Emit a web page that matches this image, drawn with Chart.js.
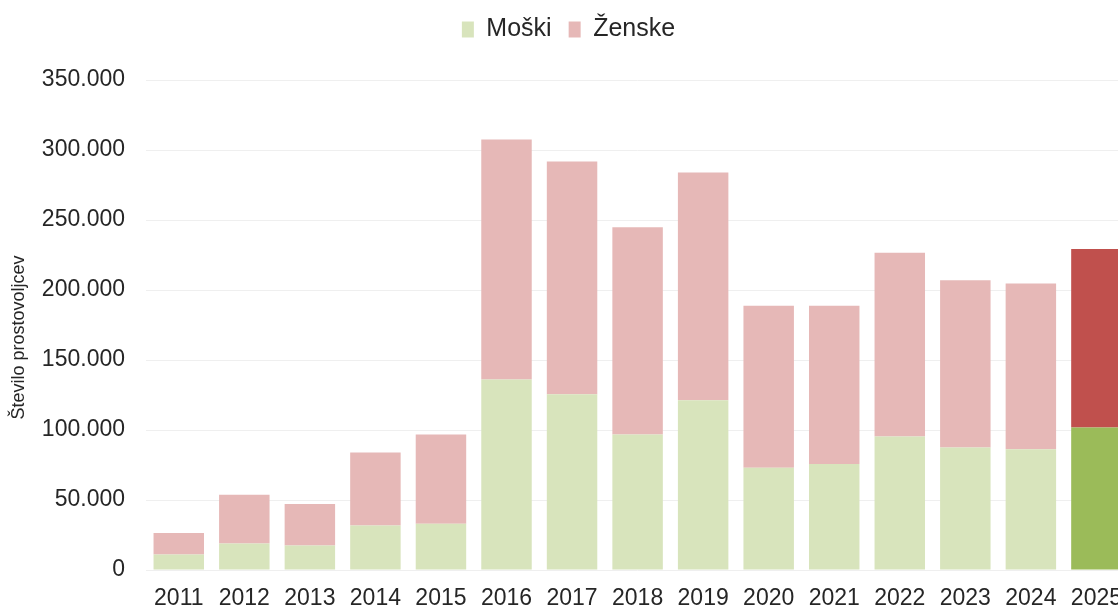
<!DOCTYPE html>
<html>
<head>
<meta charset="utf-8">
<script src="https://cdn.jsdelivr.net/npm/chart.js@4/dist/chart.umd.min.js"></script>
<style>
    html, body { margin: 0; padding: 0; background: #fff; overflow: hidden; }
    #wrap { width: 1137px; height: 610px; position: relative; }
</style>
</head>
<body>
<div id="wrap"><canvas id="chart"></canvas></div>
<script>
// Podatki
const leta = ['2011', '2012', '2013', '2014', '2015', '2016', '2017', '2018', '2019', '2020', '2021', '2022', '2023', '2024', '2025'];
const moski = [11000, 19000, 17500, 31800, 33000, 136000, 125500, 96800, 121300, 73000, 75800, 95300, 87500, 86200, 101800];
const skupaj = [26500, 53800, 47200, 83900, 96800, 307500, 291800, 244800, 284000, 188800, 188700, 226600, 206900, 204600, 229200];
const zenske = skupaj.map((s, i) => s - moski[i]);

const zadnji = leta.length - 1;

// Barve
const moskiSvetla = '#d8e4bc';
const moskiTemna = '#9bbb59';
const zenskeSvetla = '#e6b8b7';
const zenskeTemna = '#c0504d';

Chart.defaults.font.family = '"Liberation Sans", Arial, sans-serif';
Chart.defaults.color = '#262626';

// Fiksna visina legende
const legendaVisina = {
    id: 'legendaVisina',
    beforeInit(chart) {
        const fit = chart.legend.fit;
        chart.legend.fit = function() {
            fit.bind(chart.legend)();
            this.height = 80;
        };
    }
};

new Chart(document.getElementById('chart').getContext('2d'), {
    type: 'bar',
    data: {
        labels: leta,
        datasets: [{
            label: 'Moški',
            data: moski,
            backgroundColor: ctx => ctx.dataIndex === zadnji ? moskiTemna : moskiSvetla,
            barPercentage: 0.77,
            categoryPercentage: 1
        }, {
            label: 'Ženske',
            data: zenske,
            backgroundColor: ctx => ctx.dataIndex === zadnji ? zenskeTemna : zenskeSvetla,
            barPercentage: 0.77,
            categoryPercentage: 1
        }]
    },
    options: {
        responsive: true,
        maintainAspectRatio: false,
        animation: false,
        layout: {
            padding: { top: 0, right: 0, left: 0, bottom: 0 }
        },
        plugins: {
            legend: {
                position: 'top',
                labels: {
                    boxWidth: 12,
                    boxHeight: 16,
                    padding: 17,
                    font: { size: 25 },
                    color: '#262626'
                }
            },
            tooltip: { enabled: false }
        },
        scales: {
            x: {
                stacked: true,
                grid: { display: false, drawTicks: false },
                border: { display: false },
                ticks: {
                    font: { size: 23 },
                    padding: 15,
                    maxRotation: 0,
                    autoSkip: false
                },
                afterFit: scale => { scale.height = 40; }
            },
            y: {
                stacked: true,
                min: 0,
                max: 350000,
                grid: { color: '#efefef', lineWidth: 1, drawTicks: false },
                border: { display: false },
                ticks: {
                    stepSize: 50000,
                    padding: 21,
                    font: { size: 23 },
                    callback: v => v.toLocaleString('de-DE')
                },
                title: {
                    display: true,
                    text: 'Število prostovoljcev     ',
                    font: { size: 18 },
                    padding: { top: 8, bottom: 0 }
                },
                afterFit: scale => { scale.width = 146; }
            }
        }
    },
    plugins: [legendaVisina]
});
</script>
</body>
</html>
